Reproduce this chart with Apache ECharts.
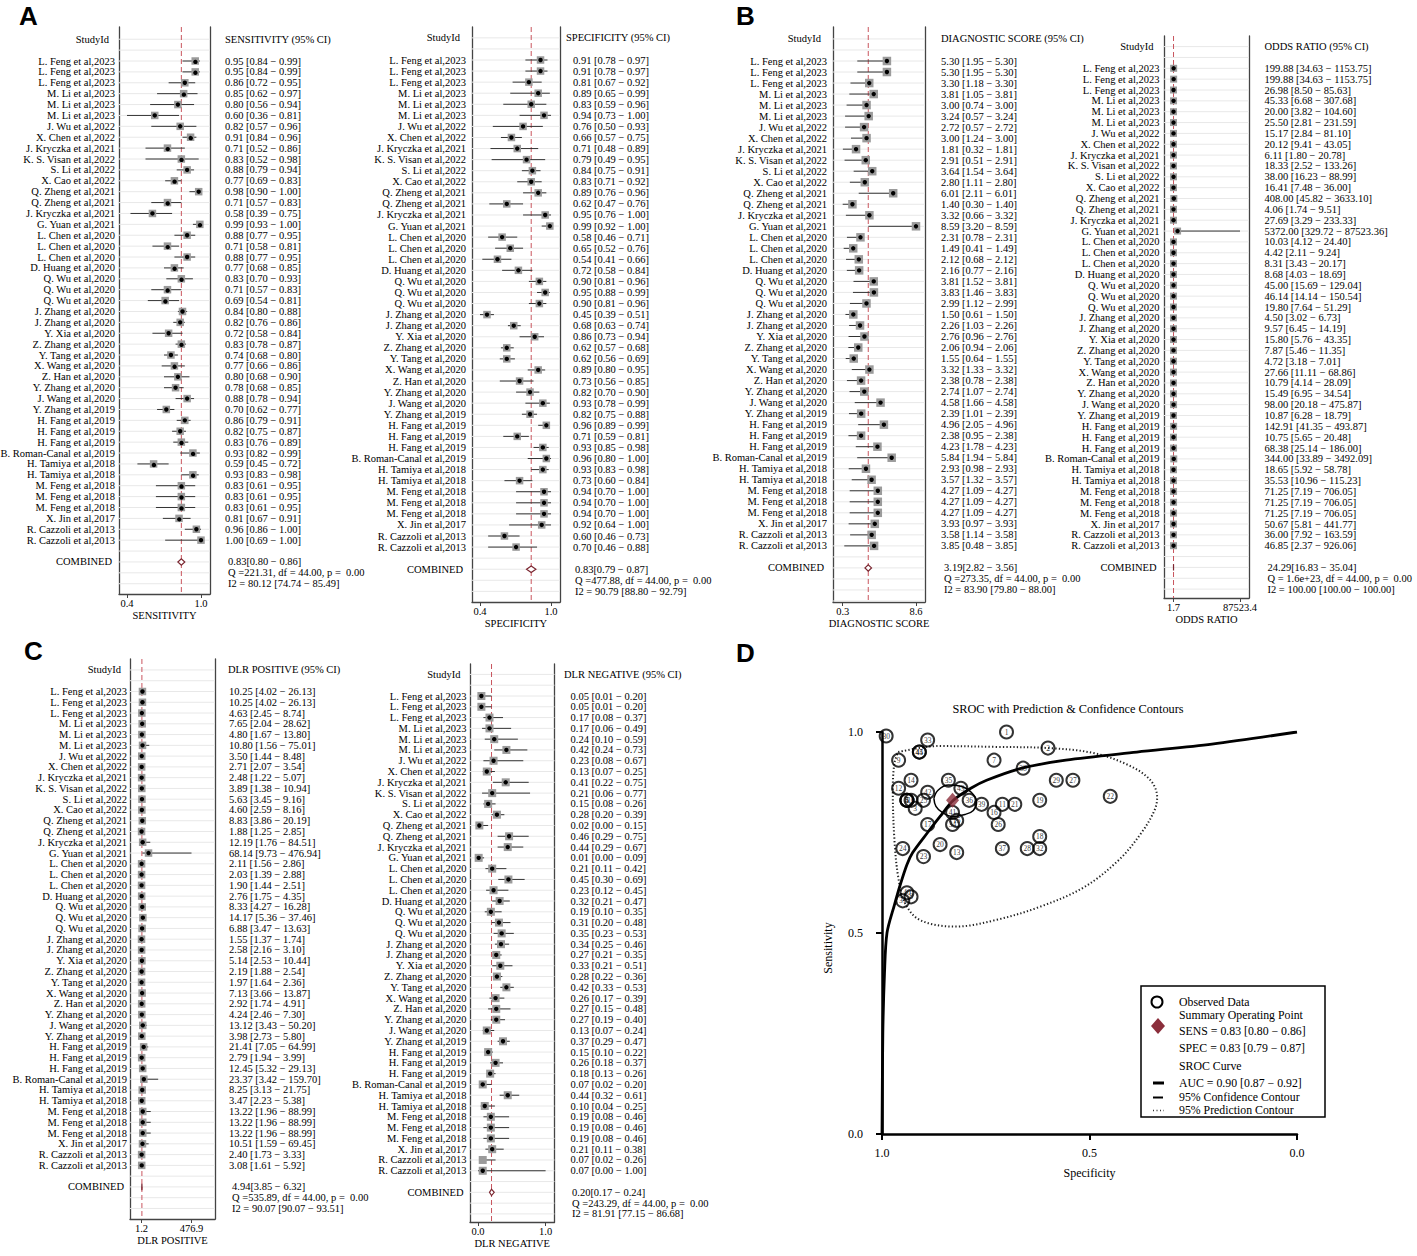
<!DOCTYPE html>
<html><head><meta charset="utf-8">
<script src="https://cdn.jsdelivr.net/npm/echarts@6/dist/echarts.min.js"></script>
<style>html,body{margin:0;padding:0;background:#fff}#c{width:1417px;height:1256px}</style>
</head><body><div id="c"></div>
<script>
// ---------------- DATA ----------------
const studies = ["L. Feng et al,2023","L. Feng et al,2023","L. Feng et al,2023","M. Li et al,2023","M. Li et al,2023","M. Li et al,2023","J. Wu et al,2022","X. Chen et al,2022","J. Kryczka et al,2021","K. S. Visan et al,2022","S. Li et al,2022","X. Cao et al,2022","Q. Zheng et al,2021","Q. Zheng et al,2021","J. Kryczka et al,2021","G. Yuan et al,2021","L. Chen et al,2020","L. Chen et al,2020","L. Chen et al,2020","D. Huang et al,2020","Q. Wu et al,2020","Q. Wu et al,2020","Q. Wu et al,2020","J. Zhang et al,2020","J. Zhang et al,2020","Y. Xia et al,2020","Z. Zhang et al,2020","Y. Tang et al,2020","X. Wang et al,2020","Z. Han et al,2020","Y. Zhang et al,2020","J. Wang et al,2020","Y. Zhang et al,2019","H. Fang et al,2019","H. Fang et al,2019","H. Fang et al,2019","B. Roman-Canal et al,2019","H. Tamiya et al,2018","H. Tamiya et al,2018","M. Feng et al,2018","M. Feng et al,2018","M. Feng et al,2018","X. Jin et al,2017","R. Cazzoli et al,2013","R. Cazzoli et al,2013"];
const studyIds = [45,44,43,42,41,40,39,38,37,36,35,34,33,32,31,30,29,28,27,26,25,24,23,22,21,20,19,18,17,16,15,14,13,12,11,10,9,8,7,6,5,4,3,2,1];

const sensVal = [0.95,0.95,0.86,0.85,0.80,0.60,0.82,0.91,0.71,0.83,0.88,0.77,0.98,0.71,0.58,0.99,0.88,0.71,0.88,0.77,0.83,0.71,0.69,0.84,0.82,0.72,0.83,0.74,0.77,0.80,0.78,0.88,0.70,0.86,0.82,0.83,0.93,0.59,0.93,0.83,0.83,0.83,0.81,0.96,1.00];
const sensLo  = [0.84,0.84,0.72,0.62,0.56,0.36,0.57,0.84,0.52,0.52,0.79,0.69,0.90,0.57,0.39,0.93,0.77,0.58,0.77,0.68,0.70,0.57,0.54,0.80,0.76,0.58,0.78,0.68,0.66,0.68,0.68,0.78,0.62,0.79,0.75,0.76,0.82,0.45,0.83,0.61,0.61,0.61,0.67,0.86,0.69];
const sensHi  = [0.99,0.99,0.95,0.97,0.94,0.81,0.96,0.96,0.86,0.98,0.94,0.83,1.00,0.83,0.75,1.00,0.95,0.81,0.95,0.85,0.93,0.83,0.81,0.88,0.86,0.84,0.87,0.80,0.86,0.90,0.85,0.94,0.77,0.91,0.87,0.89,0.99,0.72,0.98,0.95,0.95,0.95,0.91,1.00,1.00];
const sensComb = [0.83,0.80,0.86];
const sensI2 = [80.12,74.74,85.49];
const sensQ = "Q =221.31, df = 44.00, p =  0.00";
const sensTicks = ["0.4","1.0"];

const specVal = [0.91,0.91,0.81,0.89,0.83,0.94,0.76,0.66,0.71,0.79,0.84,0.83,0.89,0.62,0.95,0.99,0.58,0.65,0.54,0.72,0.90,0.95,0.90,0.45,0.68,0.86,0.62,0.62,0.89,0.73,0.82,0.93,0.82,0.96,0.71,0.93,0.96,0.93,0.73,0.94,0.94,0.94,0.92,0.60,0.70];
const specLo  = [0.78,0.78,0.67,0.65,0.59,0.73,0.50,0.57,0.48,0.49,0.75,0.71,0.76,0.47,0.76,0.92,0.46,0.52,0.41,0.58,0.81,0.88,0.81,0.39,0.63,0.73,0.57,0.56,0.80,0.56,0.70,0.78,0.75,0.89,0.59,0.85,0.80,0.83,0.60,0.70,0.70,0.70,0.64,0.46,0.46];
const specHi  = [0.97,0.97,0.92,0.99,0.96,1.00,0.93,0.75,0.89,0.95,0.91,0.92,0.96,0.76,1.00,1.00,0.71,0.76,0.66,0.84,0.96,0.99,0.96,0.51,0.74,0.94,0.68,0.69,0.95,0.85,0.90,0.99,0.88,0.99,0.81,0.98,1.00,0.98,0.84,1.00,1.00,1.00,1.00,0.73,0.88];
const specComb = [0.83,0.79,0.87];
const specI2 = [90.79,88.80,92.79];
const specQ = "Q =477.88, df = 44.00, p =  0.00";
const specTicks = ["0.4","1.0"];

const dsVal = [5.30,5.30,3.30,3.81,3.00,3.24,2.72,3.00,1.81,2.91,3.64,2.80,6.01,1.40,3.32,8.59,2.31,1.49,2.12,2.16,3.81,3.83,2.99,1.50,2.26,2.76,2.06,1.55,3.32,2.38,2.74,4.58,2.39,4.96,2.38,4.23,5.84,2.93,3.57,4.27,4.27,4.27,3.93,3.58,3.85];
const dsLo  = [1.95,1.95,1.18,1.05,0.74,0.57,0.57,1.24,0.32,0.51,1.54,1.11,2.11,0.30,0.66,3.20,0.78,0.41,0.68,0.77,1.52,1.46,1.12,0.61,1.03,0.96,0.94,0.64,1.33,0.78,1.07,1.66,1.01,2.05,0.95,1.78,1.94,0.98,1.32,1.09,1.09,1.09,0.97,1.14,0.48];
const dsHi  = [5.30,5.30,3.30,3.81,3.00,3.24,2.72,3.00,1.81,2.91,3.64,2.80,6.01,1.40,3.32,8.59,2.31,1.49,2.12,2.16,3.81,3.83,2.99,1.50,2.26,2.76,2.06,1.55,3.32,2.38,2.74,4.58,2.39,4.96,2.38,4.23,5.84,2.93,3.57,4.27,4.27,4.27,3.93,3.58,3.85];
const dsComb = [3.19,2.82,3.56];
const dsI2 = [83.90,79.80,88.00];
const dsQ = "Q =273.35, df = 44.00, p =  0.00";
const dsTicks = ["0.3","8.6"];

const orVal = [199.88,199.88,26.98,45.33,20.00,25.50,15.17,20.12,6.11,18.33,38.00,16.41,408.00,4.06,27.69,5372.00,10.03,4.42,8.31,8.68,45.00,46.14,19.80,4.50,9.57,15.80,7.87,4.72,27.66,10.79,15.49,98.00,10.87,142.91,10.75,68.38,344.00,18.65,35.53,71.25,71.25,71.25,50.67,36.00,46.85];
const orLo  = [34.63,34.63,8.50,6.68,3.82,2.81,2.84,9.41,1.80,2.52,16.23,7.48,45.82,1.74,3.29,329.72,4.12,2.11,3.43,4.03,15.69,14.14,7.64,3.02,6.45,5.76,5.46,3.18,11.11,4.14,6.95,20.18,6.28,41.35,5.65,25.14,33.89,5.92,10.96,7.19,7.19,7.19,5.81,7.92,2.37];
const orHi  = [1153.75,1153.75,85.63,307.68,104.60,231.59,81.10,43.05,20.78,133.26,88.99,36.00,3633.10,9.51,233.33,87523.36,24.40,9.24,20.17,18.69,129.04,150.54,51.29,6.73,14.19,43.35,11.35,7.01,68.86,28.09,34.54,475.87,18.79,493.87,20.48,186.00,3492.09,58.78,115.23,706.05,706.05,706.05,441.77,163.59,926.06];
const orComb = [24.29,16.83,35.04];
const orI2 = [100.00,100.00,100.00];
const orQ = "Q = 1.6e+23, df = 44.00, p =  0.00";
const orTicks = ["1.7","87523.4"];

const lrpVal = [10.25,10.25,4.63,7.65,4.80,10.80,3.50,2.71,2.48,3.89,5.63,4.60,8.83,1.88,12.19,68.14,2.11,2.03,1.90,2.76,8.33,14.17,6.88,1.55,2.58,5.14,2.19,1.97,7.13,2.92,4.24,13.12,3.98,21.41,2.79,12.45,23.37,8.25,3.47,13.22,13.22,13.22,10.51,2.40,3.08];
const lrpLo  = [4.02,4.02,2.45,2.04,1.67,1.56,1.44,2.07,1.22,1.38,3.45,2.59,3.86,1.25,1.76,9.73,1.56,1.39,1.44,1.75,4.27,5.36,3.47,1.37,2.16,2.53,1.88,1.64,3.66,1.74,2.46,3.43,2.73,7.05,1.94,5.32,3.42,3.13,2.23,1.96,1.96,1.96,1.59,1.73,1.61];
const lrpHi  = [26.13,26.13,8.74,28.62,13.80,75.01,8.48,3.54,5.07,10.94,9.16,8.16,20.19,2.85,84.51,476.94,2.86,2.88,2.51,4.35,16.28,37.46,13.63,1.74,3.10,10.44,2.54,2.36,13.87,4.91,7.30,50.20,5.80,64.99,3.99,29.13,159.70,21.75,5.38,88.99,88.99,88.99,69.45,3.33,5.92];
const lrpComb = [4.94,3.85,6.32];
const lrpI2 = [90.07,90.07,93.51];
const lrpQ = "Q =535.89, df = 44.00, p =  0.00";
const lrpTicks = ["1.2","476.9"];

const lrnVal = [0.05,0.05,0.17,0.17,0.24,0.42,0.23,0.13,0.41,0.21,0.15,0.28,0.02,0.46,0.44,0.01,0.21,0.45,0.23,0.32,0.19,0.31,0.35,0.34,0.27,0.33,0.28,0.42,0.26,0.27,0.27,0.13,0.37,0.15,0.26,0.18,0.07,0.44,0.10,0.19,0.19,0.19,0.21,0.07,0.07];
const lrnLo  = [0.01,0.01,0.08,0.06,0.10,0.24,0.08,0.07,0.22,0.06,0.08,0.20,0.00,0.29,0.29,0.00,0.11,0.30,0.12,0.21,0.10,0.20,0.23,0.25,0.21,0.21,0.22,0.33,0.17,0.15,0.19,0.07,0.29,0.10,0.18,0.13,0.02,0.32,0.04,0.08,0.08,0.08,0.11,0.02,0.00];
const lrnHi  = [0.20,0.20,0.37,0.49,0.59,0.73,0.67,0.25,0.75,0.77,0.26,0.39,0.15,0.75,0.67,0.09,0.42,0.69,0.45,0.47,0.35,0.48,0.53,0.46,0.35,0.51,0.36,0.53,0.39,0.48,0.40,0.24,0.47,0.22,0.37,0.26,0.20,0.61,0.25,0.46,0.46,0.46,0.38,0.26,1.00];
const lrnComb = [0.20,0.17,0.24];
const lrnI2 = [81.91,77.15,86.68];
const lrnQ = "Q =243.29, df = 44.00, p =  0.00";
const lrnTicks = ["0.0","1.0"];

// SROC panel: specificity / sensitivity pairs
const srocSpec = [1.000,0.998,0.994,0.988,0.970,0.956,0.940,0.926,0.890,0.860,0.828,0.786,0.748,0.663,0.557,0.386,0.205,0.000];
const srocSens = [0.000,0.250,0.400,0.500,0.570,0.620,0.670,0.700,0.750,0.790,0.830,0.860,0.880,0.910,0.930,0.950,0.970,1.000];
const predSpec = [0.961,0.865,0.727,0.599,0.492,0.407,0.354,0.337,0.343,0.375,0.429,0.513,0.620,0.727,0.822,0.908,0.945,0.961,0.970,0.974,0.970,0.961];
const predSens = [0.950,0.965,0.963,0.960,0.948,0.918,0.881,0.838,0.806,0.749,0.682,0.614,0.565,0.532,0.516,0.532,0.575,0.640,0.731,0.856,0.923,0.950];
const confSpec = [0.875,0.865,0.840,0.810,0.785,0.772,0.780,0.800,0.830,0.855,0.870,0.875];
const confSens = [0.835,0.855,0.868,0.865,0.850,0.826,0.805,0.795,0.790,0.800,0.815,0.835];
const aucVals = [0.90,0.87,0.92];

// ---------------- LAYOUT / STYLE ----------------
const FF = '"Liberation Serif","Times New Roman",serif';
const FS = 10.5;
const FONT = FS + 'px ' + FF;
const BOX = '#444';
const RED = '#c9555e';
const GRIDC = '#e8e8e8';
const SQ = '#9b9b9b';

const panels = [
  {val:sensVal, lo:sensLo, hi:sensHi, comb:sensComb, i2:sensI2, q:sensQ, ticks:sensTicks, name:'SENSITIVITY', header:'SENSITIVITY (95% CI)',
   box:[119,210,27,594], row1:61, step:10.89, pmin:127, pmax:201, nameR:115, txtL:225, hdrL:225, combL:228, sq:7.5},
  {val:specVal, lo:specLo, hi:specHi, comb:specComb, i2:specI2, q:specQ, ticks:specTicks, name:'SPECIFICITY', header:'SPECIFICITY (95% CI)',
   box:[472,560,27,602], row1:60, step:11.07, pmin:480, pmax:551, nameR:466, txtL:573, hdrL:566, combL:575, sq:7.5},
  {val:dsVal, lo:dsLo, hi:dsHi, comb:dsComb, i2:dsI2, q:dsQ, ticks:dsTicks, name:'DIAGNOSTIC SCORE', header:'DIAGNOSTIC SCORE (95% CI)',
   box:[833,925,27,602], row1:61, step:11.02, pmin:842.7, pmax:916, nameR:827, txtL:941, hdrL:941, combL:944, sq:8.5},
  {val:orVal, lo:orLo, hi:orHi, comb:orComb, i2:orI2, q:orQ, ticks:orTicks, name:'ODDS RATIO', header:'ODDS RATIO (95% CI)',
   box:[1164,1249,36,598], row1:68.3, step:10.85, pmin:1173.5, pmax:1240, nameR:1159.5, txtL:1264.5, hdrL:1264.5, combL:1267.5, sq:7},
  {val:lrpVal, lo:lrpLo, hi:lrpHi, comb:lrpComb, i2:lrpI2, q:lrpQ, ticks:lrpTicks, name:'DLR POSITIVE', header:'DLR POSITIVE (95% CI)',
   box:[130,215,659,1219], row1:691.5, step:10.77, pmin:141.5, pmax:191.5, nameR:127, txtL:229, hdrL:228, combL:232, sq:7.5},
  {val:lrnVal, lo:lrnLo, hi:lrnHi, comb:lrnComb, i2:lrnI2, q:lrnQ, ticks:lrnTicks, name:'DLR NEGATIVE', header:'DLR NEGATIVE (95% CI)',
   box:[470,554.5,664,1222], row1:696, step:10.79, pmin:478, pmax:545.6, nameR:466.5, txtL:570.5, hdrL:564, combL:572, sq:8}
];

const f2 = n => n.toFixed(2);
const DASH = ' \u2212 ';

function txt(text, x, y, align, font, fill) {
  return {type:'text', style:{text:text, x:x, y:y, align:align, textAlign:align, verticalAlign:'middle', textVerticalAlign:'middle', font:font, fill:fill||'#000'}};
}

const grids = [], xAxes = [], yAxes = [], series = [];

panels.forEach((P, k) => {
  const bl = P.box[0], br = P.box[1], bt = P.box[2], bb = P.box[3];
  const dmin = Math.min.apply(null, P.lo), dmax = Math.max.apply(null, P.hi);
  const kx = (P.pmax - P.pmin) / (dmax - dmin);
  const xmin = dmin - (P.pmin - bl) / kx, xmax = dmax + (br - P.pmax) / kx;
  const rowAt = py => 1 + (py - P.row1) / P.step;
  const ymin = rowAt(bt), ymax = rowAt(bb);
  grids.push({left:bl, top:bt, width:br-bl, height:bb-bt, containLabel:false, outerBoundsMode:'none'});
  xAxes.push({gridIndex:k, type:'value', min:xmin, max:xmax,
    axisLine:{show:true, onZero:false, lineStyle:{color:BOX, width:1.3}},
    splitLine:{show:false},
    axisTick:{show:true, customValues:[dmin, dmax], length:4, lineStyle:{color:BOX}},
    axisLabel:{show:true, customValues:[dmin, dmax], margin:4, fontFamily:FF, fontSize:FS, color:'#000',
      formatter: v => (Math.abs(v - dmin) < Math.abs(v - dmax) ? P.ticks[0] : P.ticks[1])},
    name:P.name, nameLocation:'middle', nameGap:15, nameTextStyle:{fontFamily:FF, fontSize:FS, color:'#000'}});
  const mkY = pos => ({gridIndex:k, type:'value', inverse:true, min:ymin, max:ymax, position:pos,
    axisTick:{show:false}, axisLabel:{show:false}, splitLine:{show:false},
    axisLine:{show:true, onZero:false, lineStyle:{color:BOX, width:1.3}}});
  yAxes.push(mkY('left'));
  yAxes.push(mkY('right'));
  const yi = 2 * k;

  // row gridlines
  const rows = [];
  for (let r = -1; r <= Math.floor(ymax); r++) rows.push([dmin, r]);
  series.push({type:'custom', xAxisIndex:k, yAxisIndex:yi, silent:true, z:1, data:rows,
    renderItem:(params, api) => {
      const cs = params.coordSys;
      const y = api.coord([api.value(0), api.value(1)])[1];
      return {type:'line', shape:{x1:cs.x, y1:y, x2:cs.x + cs.width, y2:y}, style:{stroke:GRIDC, lineWidth:1}};
    }});

  // pooled estimate reference line
  series.push({type:'custom', xAxisIndex:k, yAxisIndex:yi, silent:true, z:2, data:[[P.comb[0], 1]],
    renderItem:(params, api) => {
      const cs = params.coordSys;
      const x = api.coord([api.value(0), api.value(1)])[0];
      return {type:'line', shape:{x1:x, y1:cs.y, x2:x, y2:cs.y + cs.height}, style:{stroke:RED, lineWidth:1, lineDash:[5,3]}};
    }});

  // study estimates
  series.push({type:'custom', xAxisIndex:k, yAxisIndex:yi, silent:true, z:3,
    data:P.val.map((v, i) => [v, i + 1, P.lo[i], P.hi[i]]),
    renderItem:(params, api) => {
      const row = api.value(1);
      const pv = api.coord([api.value(0), row]);
      const pl = api.coord([api.value(2), row]);
      const ph = api.coord([api.value(3), row]);
      const s = P.sq;
      return {type:'group', children:[
        {type:'line', shape:{x1:pl[0], y1:pv[1], x2:ph[0], y2:pv[1]}, style:{stroke:'#333', lineWidth:1}},
        {type:'rect', shape:{x:pv[0] - s/2, y:pv[1] - s/2, width:s, height:s}, style:{fill:SQ}},
        {type:'circle', shape:{cx:pv[0], cy:pv[1], r:2.2}, style:{fill:'#000'}}
      ]};
    }});

  // combined diamond
  series.push({type:'custom', xAxisIndex:k, yAxisIndex:yi, silent:true, z:4,
    data:[[P.comb[0], 47, P.comb[1], P.comb[2]]],
    renderItem:(params, api) => {
      const row = api.value(1);
      const pv = api.coord([api.value(0), row]);
      const pl = api.coord([api.value(2), row]);
      const ph = api.coord([api.value(3), row]);
      const h = 3.2;
      return {type:'polygon', shape:{points:[[pl[0], pv[1]], [pv[0], pv[1] - h], [ph[0], pv[1]], [pv[0], pv[1] + h]]},
        style:{fill:'#fff', stroke:'#7a2630', lineWidth:1.2}};
    }});

  // texts
  const tr = [];
  tr.push({row:-1, l:'StudyId', lx:P.nameR - 6, r:P.header, rx:P.hdrL});
  P.val.forEach((v, i) => tr.push({row:i + 1, l:studies[i], lx:P.nameR,
    r:f2(v) + ' [' + f2(P.lo[i]) + DASH + f2(P.hi[i]) + ']', rx:P.txtL}));
  tr.push({row:47, l:'COMBINED', lx:P.nameR - 3, r:f2(P.comb[0]) + '[' + f2(P.comb[1]) + DASH + f2(P.comb[2]) + ']', rx:P.combL});
  tr.push({row:48, r:P.q, rx:P.combL});
  tr.push({row:49, r:'I2 = ' + f2(P.i2[0]) + ' [' + f2(P.i2[1]) + DASH + f2(P.i2[2]) + ']', rx:P.combL});
  series.push({type:'custom', xAxisIndex:k, yAxisIndex:yi, silent:true, z:5,
    data:tr.map(t => [dmin, t.row]),
    renderItem:(params, api) => {
      const t = tr[params.dataIndex];
      const y = api.coord([api.value(0), api.value(1)])[1];
      const ch = [];
      if (t.l) ch.push(txt(t.l, t.lx, y, 'right', FONT));
      if (t.r) ch.push(txt(t.r, t.rx, y, 'left', FONT));
      return {type:'group', children:ch};
    }});
});

// ---------------- SROC PANEL ----------------
const SF = 12;
grids.push({left:882, top:732, width:415, height:402, containLabel:false, outerBoundsMode:'none'});
xAxes.push({gridIndex:6, type:'value', min:0, max:1, interval:0.5, inverse:true,
  axisLine:{show:true, onZero:false, lineStyle:{color:'#000', width:2.5}},
  axisTick:{show:true, length:6, lineStyle:{color:'#000', width:2}},
  axisLabel:{margin:13, fontFamily:FF, fontSize:SF, color:'#000', formatter:v => v.toFixed(1)},
  splitLine:{show:false},
  name:'Specificity', nameLocation:'middle', nameGap:33, nameTextStyle:{fontFamily:FF, fontSize:SF, color:'#000'}});
yAxes.push({gridIndex:6, type:'value', min:0, max:1, interval:0.5,
  axisLine:{show:true, onZero:false, lineStyle:{color:'#000', width:2.5}},
  axisTick:{show:true, length:6, lineStyle:{color:'#000', width:2}},
  axisLabel:{margin:19, fontFamily:FF, fontSize:SF, color:'#000', formatter:v => v.toFixed(1)},
  splitLine:{show:false},
  name:'Sensitivity', nameLocation:'middle', nameGap:48, nameTextStyle:{fontFamily:FF, fontSize:SF, color:'#000', padding:[0,0,0,-30]}});

const zip = (a, b) => a.map((v, i) => [v, b[i]]);
series.push({type:'line', xAxisIndex:6, yAxisIndex:12, silent:true, z:2, symbol:'none', smooth:0.35, color:'#222',
  data:zip(predSpec, predSens), lineStyle:{color:'#222', width:2, type:[1.3,2.2]}});
series.push({type:'scatter', xAxisIndex:6, yAxisIndex:12, silent:true, z:3, symbol:'circle', symbolSize:13, color:'#000',
  data:specVal.map((s, i) => [s, sensVal[i], studyIds[i]]),
  itemStyle:{color:'rgba(255,255,255,0)', borderColor:'#000', borderWidth:2},
  label:{show:true, position:'inside', formatter:p => String(p.value[2]), fontFamily:FF, fontSize:7.5, color:'#000', textBorderWidth:0, textBorderColor:'transparent'}});
series.push({type:'line', xAxisIndex:6, yAxisIndex:12, silent:true, z:4, symbol:'none', smooth:0.4, color:'#000',
  data:zip(confSpec, confSens), lineStyle:{color:'#000', width:1.5}});
series.push({type:'line', xAxisIndex:6, yAxisIndex:12, silent:true, z:4, symbol:'none', smooth:0.3, color:'#000',
  data:zip(srocSpec, srocSens), lineStyle:{color:'#000', width:2.8}});
series.push({type:'scatter', xAxisIndex:6, yAxisIndex:12, silent:true, z:5, symbol:'diamond', symbolSize:[13,15], color:'#8b2e3b',
  data:[[specComb[0], sensComb[0]]], itemStyle:{color:'#8b2e3b'}});

// ---------------- GRAPHIC (legend, titles, panel letters) ----------------
const LF = '11.8px ' + FF;
const LETTER = 'bold 26px "Liberation Sans",Arial,sans-serif';
const g = [];
const letter = (t, x, y) => ({type:'text', x:x, y:y, style:{text:t, font:LETTER, fill:'#000', align:'left', textAlign:'left', verticalAlign:'top', textVerticalAlign:'top'}});
g.push(letter('A', 19, 3), letter('B', 736, 3), letter('C', 24, 638), letter('D', 736, 640));
g.push({type:'text', x:1068, y:709, style:{text:'SROC with Prediction & Confidence Contours', font:'12.3px ' + FF, fill:'#000', align:'center', textAlign:'center', verticalAlign:'middle', textVerticalAlign:'middle'}});
const lt = (t, x, y) => ({type:'text', x:x, y:y, z:101, style:{text:t, font:LF, fill:'#000', align:'left', textAlign:'left', verticalAlign:'middle', textVerticalAlign:'middle'}});
g.push({type:'rect', z:100, shape:{x:1141, y:986, width:184, height:131}, style:{fill:'#fff', stroke:'#000', lineWidth:1.5}});
g.push({type:'circle', z:101, shape:{cx:1157, cy:1002, r:5.5}, style:{fill:'none', stroke:'#000', lineWidth:2}});
g.push(lt('Observed Data', 1179, 1002));
g.push({type:'polygon', z:101, shape:{points:[[1158,1018],[1165,1026],[1158,1034],[1151,1026]]}, style:{fill:'#8b2e3b'}});
g.push(lt('Summary Operating Point', 1179, 1015));
g.push(lt('SENS = ' + f2(sensComb[0]) + ' [' + f2(sensComb[1]) + DASH + f2(sensComb[2]) + ']', 1179, 1031));
g.push(lt('SPEC = ' + f2(specComb[0]) + ' [' + f2(specComb[1]) + DASH + f2(specComb[2]) + ']', 1179, 1048));
g.push(lt('SROC Curve', 1179, 1066));
g.push({type:'line', z:101, shape:{x1:1153, y1:1083, x2:1164, y2:1083}, style:{stroke:'#000', lineWidth:3}});
g.push(lt('AUC = ' + f2(aucVals[0]) + ' [' + f2(aucVals[1]) + DASH + f2(aucVals[2]) + ']', 1179, 1083));
g.push({type:'line', z:101, shape:{x1:1153, y1:1097.5, x2:1163, y2:1097.5}, style:{stroke:'#000', lineWidth:2}});
g.push(lt('95% Confidence Contour', 1179, 1097));
g.push({type:'line', z:101, shape:{x1:1153, y1:1110.5, x2:1164, y2:1110.5}, style:{stroke:'#333', lineWidth:1.5, lineDash:[1,2.5]}});
g.push(lt('95% Prediction Contour', 1179, 1110));

const chart = echarts.init(document.getElementById('c'), null, {renderer:'svg', width:1417, height:1256});
chart.setOption({
  animation:false,
  backgroundColor:'#fff',
  textStyle:{fontFamily:FF},
  grid:grids, xAxis:xAxes, yAxis:yAxes, series:series,
  graphic:{elements:g}
});
</script>
</body></html>
